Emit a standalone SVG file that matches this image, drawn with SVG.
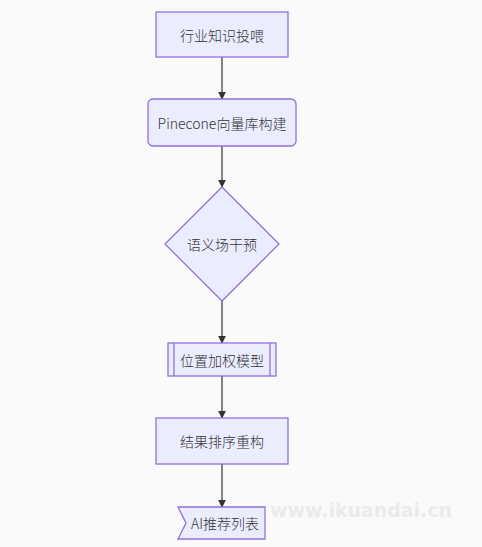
<svg xmlns="http://www.w3.org/2000/svg" width="482" height="547" viewBox="0 0 482 547">
<defs>
<style>
.node{fill:#ECECFF;stroke:#9370DB;stroke-width:1.3}
.lbl{font-family:"Noto Sans CJK SC","Noto Sans",sans-serif;font-size:14px;font-weight:300;fill:#333;text-anchor:middle;dominant-baseline:central}
.edge{stroke:#333;stroke-width:1.2;fill:none}
</style>
<marker id="arr" viewBox="0 0 10 10" refX="9" refY="5" markerWidth="8" markerHeight="8" markerUnits="userSpaceOnUse" orient="auto">
<path d="M0,0 L10,5 L0,10 z" fill="#333"/>
</marker>
</defs>
<rect width="482" height="547" fill="#fafafa"/>
<g id="edges">
<line class="edge" x1="222" y1="57" x2="222" y2="99" marker-end="url(#arr)"/>
<line class="edge" x1="222" y1="146" x2="222" y2="187" marker-end="url(#arr)"/>
<line class="edge" x1="222" y1="301" x2="222" y2="343" marker-end="url(#arr)"/>
<line class="edge" x1="222" y1="376" x2="222" y2="418" marker-end="url(#arr)"/>
<line class="edge" x1="222" y1="464" x2="222" y2="507" marker-end="url(#arr)"/>
</g>
<g id="n1">
<rect class="node" x="156" y="12" width="132" height="45"/>
<text class="lbl" x="222" y="35">行业知识投喂</text>
</g>
<g id="n2">
<rect class="node" x="148" y="99" width="148" height="47" rx="5"/>
<text class="lbl" x="222" y="123">Pinecone向量库构建</text>
</g>
<g id="n3">
<polygon class="node" points="222,187 279,244 222,301 165,244"/>
<text class="lbl" x="222" y="244">语义场干预</text>
</g>
<g id="n4">
<rect class="node" x="168" y="343" width="108" height="33"/>
<line class="node" x1="174" y1="343" x2="174" y2="376"/>
<line class="node" x1="270" y1="343" x2="270" y2="376"/>
<text class="lbl" x="222" y="360">位置加权模型</text>
</g>
<g id="n5">
<rect class="node" x="156" y="418" width="132" height="46"/>
<text class="lbl" x="222" y="441">结果排序重构</text>
</g>
<g id="n6">
<polygon class="node" points="178,507 265,507 265,539 178,539 186,523"/>
<text class="lbl" x="225" y="523">AI推荐列表</text>
</g>
<text x="270" y="517" font-family="DejaVu Sans" font-weight="bold" font-size="20" fill="#ebebeb" textLength="182" lengthAdjust="spacingAndGlyphs">www.ikuandai.cn</text>
</svg>
